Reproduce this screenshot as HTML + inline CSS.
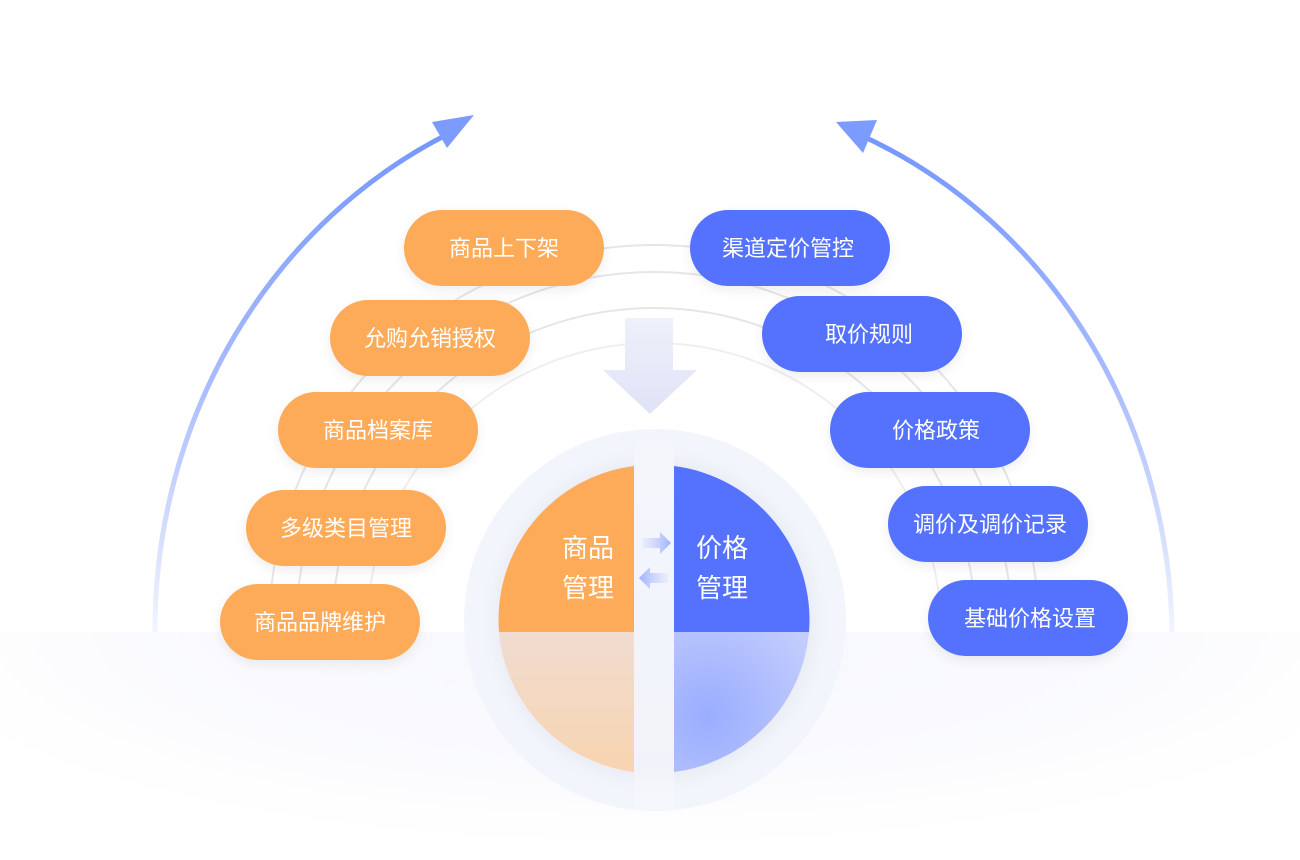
<!DOCTYPE html>
<html><head><meta charset="utf-8"><style>
html,body{margin:0;padding:0;background:#fff;overflow:hidden;width:1300px;height:860px;}
svg{display:block;}
text{font-family:"Liberation Sans","Noto Sans CJK SC",sans-serif;}
</style></head><body>
<svg width="1300" height="860" viewBox="0 0 1300 860" xmlns="http://www.w3.org/2000/svg">
<defs>
<linearGradient id="arcg" x1="0" y1="0" x2="0" y2="1" gradientUnits="objectBoundingBox">
<stop offset="0" stop-color="#7496ff"/><stop offset="0.5" stop-color="#a9bcff"/><stop offset="1" stop-color="#f2f4ff"/>
</linearGradient>
<linearGradient id="downg" x1="0" y1="0" x2="0" y2="1">
<stop offset="0" stop-color="#eef0fa"/><stop offset="1" stop-color="#dfe3f6"/>
</linearGradient>
<radialGradient id="fade" cx="0.5" cy="0" r="0.6" gradientTransform="translate(0.5 0) scale(1 1.6) translate(-0.5 0)">
<stop offset="0" stop-color="#eceefa" stop-opacity="0.45"/><stop offset="0.7" stop-color="#f3f4fb" stop-opacity="0.35"/><stop offset="1" stop-color="#ffffff" stop-opacity="0.2"/>
</radialGradient>
<radialGradient id="blueLow" cx="0.25" cy="0.6" r="0.9">
<stop offset="0" stop-color="#9aadff"/><stop offset="1" stop-color="#c3cdfd"/>
</radialGradient>
<linearGradient id="orLow" x1="0" y1="0" x2="0" y2="1">
<stop offset="0" stop-color="#f0dcd0"/><stop offset="1" stop-color="#f8d4b0"/>
</linearGradient>
<linearGradient id="sarr" x1="0" y1="0" x2="1" y2="0">
<stop offset="0" stop-color="#c5cffd" stop-opacity="0.2"/><stop offset="1" stop-color="#9fb1ff"/>
</linearGradient>
<linearGradient id="sarr2" x1="1" y1="0" x2="0" y2="0">
<stop offset="0" stop-color="#c5cffd" stop-opacity="0.2"/><stop offset="1" stop-color="#9fb1ff"/>
</linearGradient>
<linearGradient id="band" x1="0" y1="0" x2="0" y2="1">
<stop offset="0" stop-color="#f4f6fc"/><stop offset="0.6" stop-color="#f2f4fb"/><stop offset="1" stop-color="#f8f9fd" stop-opacity="0.5"/>
</linearGradient>
<filter id="sh" x="-30%" y="-30%" width="160%" height="160%"><feGaussianBlur stdDeviation="8"/></filter>
<filter id="psh" x="-20%" y="-40%" width="140%" height="180%"><feGaussianBlur stdDeviation="6"/></filter>
<clipPath id="top"><rect x="0" y="0" width="1300" height="632"/></clipPath>
</defs>

<g fill="none" stroke="#e6e6e6" stroke-width="2" clip-path="url(#top)">
<circle cx="654" cy="630" r="385"/>
<circle cx="654" cy="630" r="358"/>
<circle cx="654" cy="630" r="322"/>
<circle cx="654" cy="630" r="287" stroke="#efefef"/>
</g>

<path d="M155 632 A511 548 0 0 1 452 132" fill="none" stroke="url(#arcg)" stroke-width="5"/>
<polygon points="474,115 432,122 447,148" fill="#7b9bff"/>
<path d="M1172 632 A511 548 0 0 0 858 134" fill="none" stroke="url(#arcg)" stroke-width="5"/>
<polygon points="836,122 877,120 863,153" fill="#7b9bff"/>

<polygon points="625,318 673,318 673,370 697,370 650,414 603,370 625,370" fill="url(#downg)"/>

<rect x="0" y="632" width="1300" height="228" fill="url(#fade)"/>

<circle cx="655" cy="620" r="191" fill="#f3f5fc"/>
<circle cx="655" cy="620" r="160" fill="#e9ebf4" filter="url(#sh)"/>
<path d="M634 466 A155 155 0 0 0 499 632 L634 632 Z" fill="#fdab59"/>
<path d="M674 466 A155 155 0 0 1 809 632 L674 632 Z" fill="#5472fe"/>
<path d="M499 632 A155 155 0 0 0 634 772 L634 632 Z" fill="url(#orLow)"/>
<path d="M809 632 A155 155 0 0 1 674 772 L674 632 Z" fill="url(#blueLow)"/>
<rect x="634" y="440" width="40" height="370" fill="url(#band)"/>

<polygon points="642,538 660,538 660,532 671,543 660,554 660,548 642,548" fill="url(#sarr)"/>
<polygon points="668,573 650,573 650,567 639,578 650,589 650,583 668,583" fill="url(#sarr2)"/>

<g fill="#fff" font-size="26">
<text x="588" y="557" text-anchor="middle">商品</text>
<text x="588" y="597" text-anchor="middle">管理</text>
<text x="722" y="557" text-anchor="middle">价格</text>
<text x="722" y="597" text-anchor="middle">管理</text>
</g>

<g fill="#000" opacity="0.07" filter="url(#psh)">
<rect x="404" y="214" width="200" height="76" rx="38"/>
<rect x="330" y="304" width="200" height="76" rx="38"/>
<rect x="278" y="396" width="200" height="76" rx="38"/>
<rect x="246" y="494" width="200" height="76" rx="38"/>
<rect x="220" y="588" width="200" height="76" rx="38"/>
<rect x="690" y="214" width="200" height="76" rx="38"/>
<rect x="762" y="300" width="200" height="76" rx="38"/>
<rect x="830" y="396" width="200" height="76" rx="38"/>
<rect x="888" y="490" width="200" height="76" rx="38"/>
<rect x="928" y="584" width="200" height="76" rx="38"/>
</g>
<g font-size="22" fill="#fff" text-anchor="middle">
<g><rect x="404" y="210" width="200" height="76" rx="38" fill="#fdab59"/><text x="504" y="256">商品上下架</text></g>
<g><rect x="330" y="300" width="200" height="76" rx="38" fill="#fdab59"/><text x="430" y="346">允购允销授权</text></g>
<g><rect x="278" y="392" width="200" height="76" rx="38" fill="#fdab59"/><text x="378" y="438">商品档案库</text></g>
<g><rect x="246" y="490" width="200" height="76" rx="38" fill="#fdab59"/><text x="346" y="536">多级类目管理</text></g>
<g><rect x="220" y="584" width="200" height="76" rx="38" fill="#fdab59"/><text x="320" y="630">商品品牌维护</text></g>
<g><rect x="690" y="210" width="200" height="76" rx="38" fill="#5472fe"/><text x="788" y="256">渠道定价管控</text></g>
<g><rect x="762" y="296" width="200" height="76" rx="38" fill="#5472fe"/><text x="869" y="342">取价规则</text></g>
<g><rect x="830" y="392" width="200" height="76" rx="38" fill="#5472fe"/><text x="936" y="438">价格政策</text></g>
<g><rect x="888" y="486" width="200" height="76" rx="38" fill="#5472fe"/><text x="990" y="532">调价及调价记录</text></g>
<g><rect x="928" y="580" width="200" height="76" rx="38" fill="#5472fe"/><text x="1030" y="626">基础价格设置</text></g>
</g>
</svg>
</body></html>
